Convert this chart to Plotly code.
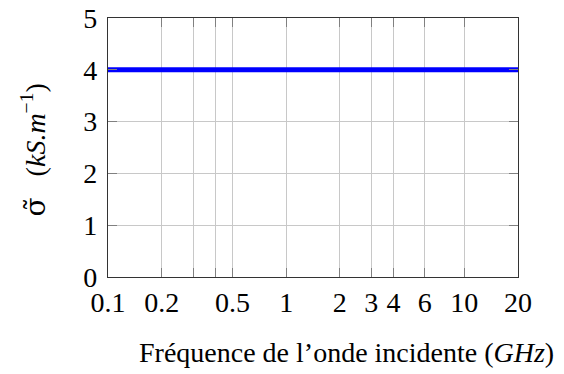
import plotly.graph_objects as go

freq_ghz = [0.1, 0.2, 0.5, 1, 2, 3, 4, 6, 10, 20]
sigma_ks = [4, 4, 4, 4, 4, 4, 4, 4, 4, 4]

x_tick_vals = [0.1, 0.2, 0.3, 0.4, 0.5, 1, 2, 3, 4, 6, 10, 20]
x_tick_text = ["0.1", "0.2", "", "", "0.5", "1", "2", "3", "4", "6", "10", "20"]
y_tick_vals = [0, 1, 2, 3, 4, 5]
y_tick_text = ["0", "1", "2", "3", "4", "5"]

x_title = "Fréquence de l’onde incidente (<i>GHz</i>)"
y_title = "<span style='font-family:DejaVu Serif'>σ̃</span>\u00a0\u00a0\u00a0(<i>kS.m</i><sup>−1</sup>)"

FONT = "Liberation Serif"
FS = 28

fig = go.Figure()
fig.add_trace(go.Scatter(
    x=freq_ghz, y=sigma_ks, mode="lines",
    line=dict(color="#0000ff", width=5),
    showlegend=False,
))

fig.update_layout(
    width=564, height=374,
    margin=dict(l=100, r=54, t=10, b=105),
    paper_bgcolor="white", plot_bgcolor="white",
    font=dict(family=FONT, size=FS, color="black"),
)

fig.update_xaxes(
    type="log", range=[-1, 1.30103],
    tickvals=x_tick_vals, ticktext=x_tick_text,
    ticks="inside", ticklen=9, tickcolor="#808080", tickwidth=1,
    showgrid=True, gridcolor="#c8c8c8", gridwidth=1,
    showline=True, linecolor="#333333", linewidth=1.3, mirror="ticks",
    zeroline=False, automargin=False, ticklabeloverflow="allow",
)
fig.update_yaxes(
    range=[0, 5],
    tickvals=y_tick_vals, ticktext=y_tick_text,
    ticks="inside", ticklen=9, tickcolor="#808080", tickwidth=1,
    showgrid=True, gridcolor="#c8c8c8", gridwidth=1,
    showline=True, linecolor="#333333", linewidth=1.3, mirror="ticks",
    zeroline=False, automargin=False, ticklabelstandoff=4,
    ticklabeloverflow="allow",
)

fig.add_annotation(
    text=x_title, xref="paper", yref="paper", x=0.5, y=0,
    xanchor="center", yanchor="middle", xshift=33, yshift=-75, showarrow=False,
    font=dict(family=FONT, size=FS, color="black"),
)
fig.add_annotation(
    text=y_title, xref="paper", yref="paper", x=0, y=0.5,
    xanchor="center", yanchor="middle", xshift=-74, yshift=-3, textangle=-90, showarrow=False,
    font=dict(family=FONT, size=FS, color="black"),
)

fig.write_html("out.html")
